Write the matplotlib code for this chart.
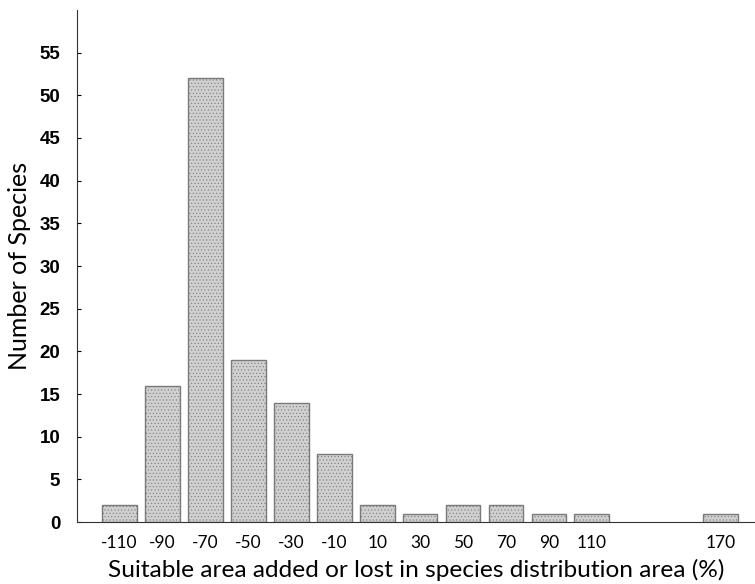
import numpy as np
import matplotlib.pyplot as plt

# histogram bins (% change) and number of species
bins = ['-110', '-90', '-70', '-50', '-30', '-10', '10', '30', '50', '70',
        '90', '110', '130', '150', '170']
species = [2, 16, 52, 19, 14, 8, 2, 1, 2, 2, 1, 1, 0, 0, 1]
shown_labels = ['-110', '-90', '-70', '-50', '-30', '-10', '10', '30', '50',
                '70', '90', '110', '', '', '170']
y_ticks = [0, 5, 10, 15, 20, 25, 30, 35, 40, 45, 50, 55]

plt.rcParams['hatch.color'] = '#b8b8b8'
plt.rcParams['hatch.linewidth'] = 0.4

fig = plt.figure(figsize=(7.55, 5.84), dpi=100)
ax = fig.add_axes([0.102, 0.106, 0.898, 0.877])

x = np.arange(len(bins))
counts = np.array(species)
keep = counts > 0  # empty bins are not drawn
ax.bar(x[keep], counts[keep], width=0.81, color='#d0d0d0', edgecolor='#7a7a7a',
       linewidth=1.0, hatch='.....')

ax.set_xlim(-0.99, 14.8)
ax.set_ylim(0, 60)
ax.set_xticks(x)
ax.set_xticklabels(shown_labels, fontsize=12.5, family='Lato')
ax.tick_params(axis='x', length=0, pad=9)
ax.set_yticks(y_ticks)
ax.set_yticklabels([str(v) for v in y_ticks], fontsize=13.5,
                   fontweight='bold', family='Liberation Sans')
ax.tick_params(axis='y', direction='in', length=3, width=0.8, pad=12)

for side in ['top', 'right']:
    ax.spines[side].set_visible(False)
ax.spines['left'].set_color('#333333')
ax.spines['bottom'].set_color('#333333')

ax.set_xlabel('Suitable area added or lost in species distribution area (%)',
              fontsize=17.6, family='Lato', labelpad=6)
ax.set_ylabel('Number of Species', fontsize=18, family='Lato', labelpad=6)

fig.savefig('out.png', dpi=100)
